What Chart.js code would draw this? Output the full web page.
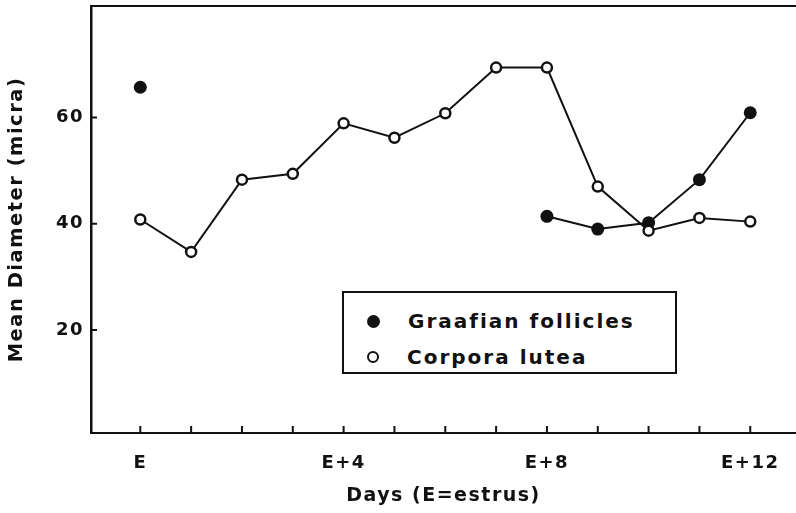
<!DOCTYPE html>
<html>
<head>
<meta charset="utf-8">
<script src="https://cdn.jsdelivr.net/npm/chart.js@4"></script>
<style>
  body { margin: 0; background: #fff; }
  #wrap { position: relative; width: 796px; height: 513px; }
  #legend {
    position: absolute; left: 342px; top: 291px; width: 331px; height: 79px;
    border: 2px solid #111; background: #fff;
    font: bold 20px "DejaVu Sans", sans-serif; letter-spacing: 2px; color: #111;
  }
  .row { position: absolute; left: 0; height: 24px; display: flex; align-items: center; white-space: nowrap; }
  .dot { width: 13px; height: 13px; border-radius: 50%; box-sizing: border-box; margin-left: 23px; margin-right: 28px; }
</style>
</head>
<body>
<div id="wrap">
  <canvas id="chart" width="796" height="513"></canvas>
  <div id="legend"></div>
</div>
<script>
const days = [0, 1, 2, 3, 4, 5, 6, 7, 8, 9, 10, 11, 12];
const tickDays = [0, 4, 8, 12];
const tickLabels = ["E", "E+4", "E+8", "E+12"];
const yTicks = [20, 40, 60];

const graafian = [65.7, null, null, null, null, null, null, null, 41.4, 39.0, 40.2, 48.3, 60.9];
const corpora = [40.8, 34.7, 48.3, 49.4, 58.9, 56.2, 60.8, 69.4, 69.4, 47.0, 38.7, 41.1, 40.4];

const legendLabels = ["Graafian follicles", "Corpora lutea"];
const ink = "#111";

// legend box (html, inside the plot)
const legendEl = document.getElementById("legend");
legendLabels.forEach((txt, i) => {
  const row = document.createElement("div");
  row.className = "row";
  row.style.top = (16 + i * 36) + "px";
  const dot = document.createElement("span");
  dot.className = "dot";
  if (i === 0) dot.style.background = ink;
  else { dot.style.border = "2.5px solid " + ink; dot.style.width = "12px"; dot.style.height = "12px"; }
  row.appendChild(dot);
  row.appendChild(document.createTextNode(txt));
  legendEl.appendChild(row);
});

const framePlugin = {
  id: "frame",
  beforeDraw(chart) {
    chart.ctx.letterSpacing = "1.5px";
  },
  afterDraw(chart) {
    const { ctx, chartArea, scales } = chart;
    ctx.save();
    ctx.strokeStyle = ink;
    ctx.lineWidth = 2;
    ctx.beginPath();
    ctx.moveTo(chartArea.left, chartArea.top);
    ctx.lineTo(chartArea.right, chartArea.top);
    days.forEach((d) => {
      const x = scales.x.getPixelForValue(d);
      ctx.moveTo(x, chartArea.bottom);
      ctx.lineTo(x, chartArea.bottom - 7);
    });
    yTicks.forEach((v) => {
      const y = scales.y.getPixelForValue(v);
      ctx.moveTo(chartArea.left, y);
      ctx.lineTo(chartArea.left + 6, y);
    });
    ctx.stroke();
    ctx.restore();
  },
};

new Chart(document.getElementById("chart"), {
  type: "line",
  data: {
    datasets: [
      {
        label: legendLabels[1],
        data: days.map((d, i) => ({ x: d, y: corpora[i] })),
        borderColor: ink,
        borderWidth: 2,
        pointRadius: 5,
        pointBorderWidth: 2.5,
        pointBackgroundColor: "#fff",
        pointBorderColor: ink,
        tension: 0,
      },
      {
        label: legendLabels[0],
        data: days.map((d, i) => ({ x: d, y: graafian[i] })),
        borderColor: ink,
        borderWidth: 2,
        pointRadius: 6.5,
        pointBorderWidth: 0,
        pointBackgroundColor: ink,
        spanGaps: false,
        tension: 0,
      },
    ],
  },
  options: {
    responsive: false,
    animation: false,
    layout: { autoPadding: false, padding: { top: 6, right: 0, left: 0, bottom: 0 } },
    plugins: { legend: { display: false }, tooltip: { enabled: false } },
    scales: {
      x: {
        type: "linear",
        min: -0.97,
        max: 12.9,
        afterBuildTicks: (s) => { s.ticks = days.map((d) => ({ value: d })); },
        afterFit: (s) => { s.height = 80; s.paddingLeft = 0; s.paddingRight = 0; },
        grid: { display: true, drawOnChartArea: false, drawTicks: false },
        border: { display: true, color: ink, width: 2 },
        ticks: {
          color: ink,
          padding: 20,
          maxRotation: 0,
          autoSkip: false,
          font: { family: "DejaVu Sans", weight: "bold", size: 18 },
          callback: (v) => {
            const i = tickDays.indexOf(v);
            return i >= 0 ? tickLabels[i] : "";
          },
        },
        title: {
          display: true,
          text: "Days (E=estrus)",
          color: ink,
          font: { family: "DejaVu Sans", weight: "bold", size: 19 },
          padding: { top: 0, bottom: 6 },
        },
      },
      y: {
        min: 0.6,
        max: 81,
        afterBuildTicks: (s) => { s.ticks = yTicks.map((v) => ({ value: v })); },
        afterFit: (s) => { s.width = 91; s.paddingTop = 0; s.paddingBottom = 0; },
        grid: { display: true, drawOnChartArea: false, drawTicks: false },
        border: { display: true, color: ink, width: 2.5 },
        ticks: {
          color: ink,
          padding: 7,
          font: { family: "DejaVu Sans", weight: "bold", size: 18 },
        },
        title: {
          display: true,
          text: "Mean Diameter (micra)",
          color: ink,
          font: { family: "DejaVu Sans", weight: "bold", size: 19.5 },
          padding: { top: 5, bottom: 0 },
        },
      },
    },
  },
  plugins: [framePlugin],
});
</script>
</body>
</html>
